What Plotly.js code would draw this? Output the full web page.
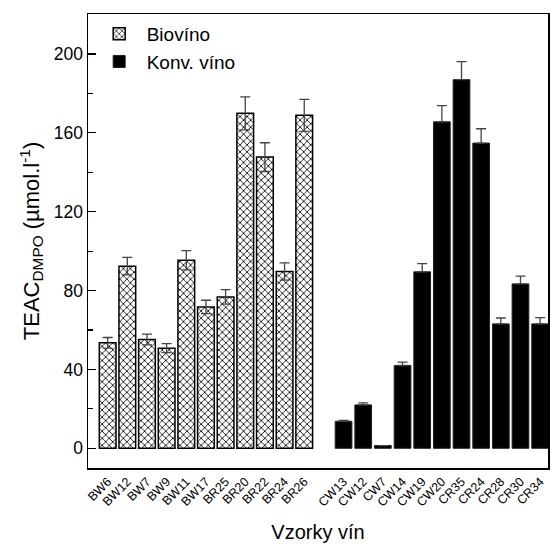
<!DOCTYPE html>
<html>
<head>
<meta charset="utf-8">
<script src="https://cdn.plot.ly/plotly-3.0.1.min.js"></script>
<style>html,body{margin:0;padding:0;background:#fff;}#chart{width:557px;height:544px;}</style>
</head>
<body>
<div id="chart"></div>
<script>
// Data
const bioLabels = ["BW6","BW12","BW7","BW9","BW11","BW17","BR25","BR20","BR22","BR24","BR26"];
const bioValues = [53.5, 92.4, 55.2, 50.8, 95.4, 71.7, 76.8, 169.9, 147.7, 89.7, 168.9];
const bioErrors = [2.7, 4.4, 2.7, 2.3, 4.9, 3.4, 3.7, 8.4, 7.3, 4.4, 8.1];
const konvLabels = ["CW13","CW12","CW7","CW14","CW19","CW20","CR35","CR24","CR28","CR30","CR34"];
const konvValues = [13.7, 22.0, 1.4, 42.0, 89.5, 165.6, 187.0, 154.8, 63.1, 83.4, 63.1];
const konvErrors = [0.5, 1.0, 0.0, 1.7, 4.2, 8.2, 9.1, 7.3, 3.0, 3.9, 3.2];

const bioX = bioLabels.map((_, i) => i);
const konvX = konvLabels.map((_, i) => i + bioLabels.length + 1);

const FONT = "Liberation Sans, Arial, sans-serif";

const traces = [
  {
    type: "bar", name: "Biovíno", x: bioX, y: bioValues, width: 0.85,
    marker: {
      color: "#ffffff",
      line: {color: "#000", width: 1.5},
      pattern: {shape: "x", fgcolor: "#000", bgcolor: "#fff", size: 5, solidity: 0.3}
    },
    error_y: {type: "data", array: bioErrors, visible: true, color: "#444", thickness: 1.3, width: 5}
  },
  {
    type: "bar", name: "Konv. víno", x: konvX, y: konvValues, width: 0.85,
    marker: {color: "#000", line: {color: "#222", width: 1}},
    error_y: {type: "data", symmetric: false, array: konvErrors, arrayminus: konvErrors.map(() => 0), visible: true, color: "#444", thickness: 1.3, width: 5}
  }
];

const layout = {
  width: 557, height: 544,
  margin: {l: 88, r: 9, t: 14, b: 76},
  paper_bgcolor: "#fff", plot_bgcolor: "#fff",
  font: {family: FONT, color: "#000"},
  showlegend: true,
  legend: {
    x: 0.008, y: 0.998, xanchor: "left", yanchor: "top",
    font: {size: 19, family: FONT}, bgcolor: "rgba(0,0,0,0)",
    itemwidth: 45, tracegroupgap: 0
  },
  bargap: 0.15,
  xaxis: {
    range: [-1, 22.4],
    tickvals: bioX.concat(konvX),
    ticktext: bioLabels.concat(konvLabels),
    tickangle: -45,
    tickfont: {size: 12.5, family: FONT},
    ticks: "", showline: true, linecolor: "#000", linewidth: 1.5, mirror: true,
    showgrid: false, zeroline: false,
    title: {text: "Vzorky vín", font: {size: 20, family: FONT}, standoff: 16}
  },
  yaxis: {
    range: [-10, 220.3],
    tickvals: [0, 40, 80, 120, 160, 200],
    ticks: "inside", ticklen: 8, tickwidth: 1.2, tickcolor: "#000",
    tickfont: {size: 17.5, family: FONT},
    minor: {tickvals: [20, 60, 100, 140, 180], ticks: "inside", ticklen: 5, tickwidth: 1.2, tickcolor: "#000"},
    showline: true, linecolor: "#000", linewidth: 1.5, mirror: true,
    showgrid: false, zeroline: false,
    title: {text: "TEAC<sub>DMPO</sub> (µmol.l<sup>-1</sup>)", font: {size: 22, family: FONT}, standoff: 8}
  }
};

Plotly.newPlot("chart", traces, layout, {displayModeBar: false, staticPlot: true});
</script>
</body>
</html>
